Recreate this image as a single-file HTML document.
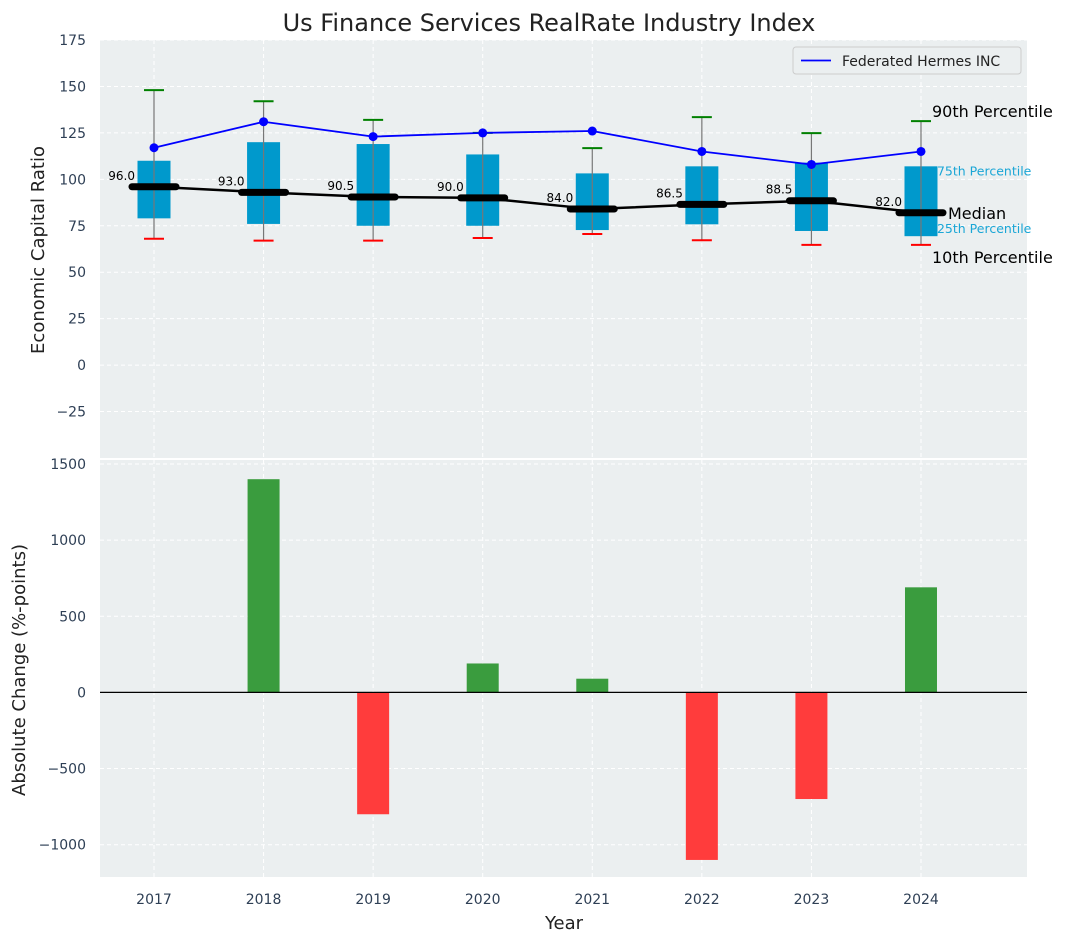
<!DOCTYPE html>
<html><head><meta charset="utf-8"><style>
body{margin:0;background:#fff;font-family:"Liberation Sans","DejaVu Sans",sans-serif}
svg text{font-family:"DejaVu Sans","Liberation Sans",sans-serif}
</style></head><body>
<svg id="c" width="1067" height="942" xmlns="http://www.w3.org/2000/svg"></svg>
<script>
const years=[2017,2018,2019,2020,2021,2022,2023,2024];
const p10=[68,67,67,68.4,70.6,67.2,64.7,64.7];
const q1=[79,76,75,75,72.7,75.8,72.2,69.4];
const med=[96,93,90.5,90,84,86.5,88.5,82];
const q3=[110,120,119,113.4,103.2,107,109,107];
const p90=[148,142,132,125,116.8,133.5,124.9,131.3];
const company=[117,131,123,125,126,115,108,115];
const changes=[0,1400,-800,190,90,-1100,-700,690];
const topTicks=[-25,0,25,50,75,100,125,150,175];
const botTicks=[-1000,-500,0,500,1000,1500];

const NS="http://www.w3.org/2000/svg";
const svg=document.getElementById('c');
function el(t,a,txt,parent){const e=document.createElementNS(NS,t);for(const k in a)e.setAttribute(k,a[k]);if(txt!==undefined)e.textContent=txt;(parent||svg).appendChild(e);return e;}
const L=100,R=1027;
const xs=v=>154+(v-2017)*109.57;
const T1=40,B1=458;
const y1=v=>T1+(175-v)/225*(B1-T1);
const T2=460,B2=877;
const y2=v=>T2+(1526-v)/(1526+1212)*(B2-T2);

const bg1=el('rect',{x:L,y:T1,width:R-L,height:B1-T1,fill:'#ebeff0'});

const bg2=el('rect',{x:L,y:T2,width:R-L,height:B2-T2,fill:'#ebeff0'});


years.forEach(y=>{el('line',{x1:xs(y),x2:xs(y),y1:T1,y2:B1,stroke:'#fff','stroke-dasharray':'4,3','stroke-width':1});
el('line',{x1:xs(y),x2:xs(y),y1:T2,y2:B2,stroke:'#fff','stroke-dasharray':'4,3','stroke-width':1});});
topTicks.forEach(t=>{el('line',{x1:L,x2:R,y1:y1(t),y2:y1(t),stroke:'#fff','stroke-dasharray':'4,3'});
const tx=el('text',{x:L-14,y:y1(t)+5,'text-anchor':'end','font-size':14,fill:'#2e3f55'},t<0?'−'+(-t):String(t));
});
botTicks.forEach(t=>{el('line',{x1:L,x2:R,y1:y2(t),y2:y2(t),stroke:'#fff','stroke-dasharray':'4,3'});
const tx=el('text',{x:L-14,y:y2(t)+5,'text-anchor':'end','font-size':14,fill:'#2e3f55'},t<0?'−'+(-t):String(t));
});

const bw=33;
years.forEach((yr,i)=>{const x=xs(yr);
const g=el('g',{});
el('rect',{x:x-bw/2,y:y1(q3[i]),width:bw,height:y1(q1[i])-y1(q3[i]),fill:'#0099cc'},undefined,g);
el('line',{x1:x,x2:x,y1:y1(p90[i]),y2:y1(p10[i]),stroke:'#777','stroke-width':1.2},undefined,g);
el('line',{x1:x-10,x2:x+10,y1:y1(p90[i]),y2:y1(p90[i]),stroke:'green','stroke-width':2},undefined,g);
el('line',{x1:x-10,x2:x+10,y1:y1(p10[i]),y2:y1(p10[i]),stroke:'red','stroke-width':2},undefined,g);
});
const mp=years.map((y,i)=>xs(y)+','+y1(med[i])).join(' ');
const ml=el('polyline',{points:mp,fill:'none',stroke:'#000','stroke-width':2.5});

years.forEach((yr,i)=>{const x=xs(yr);
const m=el('line',{x1:x-22,x2:x+22,y1:y1(med[i]),y2:y1(med[i]),stroke:'#000','stroke-width':7,'stroke-linecap':'round'});

const t=el('text',{x:x-19,y:y1(med[i])-7,'text-anchor':'end','font-size':12,fill:'#000'},med[i].toFixed(1));
});
const cl=el('polyline',{points:years.map((y,i)=>xs(y)+','+y1(company[i])).join(' '),fill:'none',stroke:'#0000ff','stroke-width':1.8});

years.forEach((yr,i)=>{const c=el('circle',{cx:xs(yr),cy:y1(company[i]),r:4.5,fill:'#0000ff'});
});

const li=7,lx=xs(years[li]);
[[ '90th Percentile',lx+11,y1(p90[li])-4,16,'#000'],['75th Percentile',lx+16,y1(q3[li])+9,12.5,'#1aa6d6'],
['Median',lx+27,y1(med[li])+6,16,'#000'],['25th Percentile',lx+16,y1(q1[li])-3,12.5,'#1aa6d6'],
['10th Percentile',lx+11,y1(p10[li])+18,16,'#000']].forEach(a=>{
const t=el('text',{x:a[1],y:a[2],'font-size':a[3],fill:a[4]},a[0]);
});

const lg=el('g',{});
el('rect',{x:793,y:47,width:228,height:27,rx:3,fill:'#ebeff0',stroke:'#ccc'},undefined,lg);
el('line',{x1:801,x2:831,y1:60.5,y2:60.5,stroke:'#0000ff','stroke-width':1.8},undefined,lg);
el('text',{x:842,y:66,'font-size':14,fill:'#222'},'Federated Hermes INC',lg);

years.forEach((yr,i)=>{const v=changes[i];if(v===0)return;const x=xs(yr);
const b=el('rect',{x:x-16,y:Math.min(y2(v),y2(0)),width:32,height:Math.abs(y2(v)-y2(0)),fill:v>=0?'#3a9c3e':'#ff3c3c'});
});
el('line',{x1:L,x2:R,y1:y2(0),y2:y2(0),stroke:'#000','stroke-width':1.2});

years.forEach(yr=>{const t=el('text',{x:xs(yr),y:904,'text-anchor':'middle','font-size':14,fill:'#2e3f55'},String(yr));
});

let t;
t=el('text',{x:549,y:31,'text-anchor':'middle','font-size':24,fill:'#222'},'Us Finance Services RealRate Industry Index');

t=el('text',{x:564,y:929,'text-anchor':'middle','font-size':18,fill:'#222'},'Year');

t=el('text',{x:0,y:0,'text-anchor':'middle','font-size':18,fill:'#222',transform:'translate(44,250) rotate(-90)'},'Economic Capital Ratio');

t=el('text',{x:0,y:0,'text-anchor':'middle','font-size':18,fill:'#222',transform:'translate(25,670) rotate(-90)'},'Absolute Change (%-points)');

</script>
</body></html>
